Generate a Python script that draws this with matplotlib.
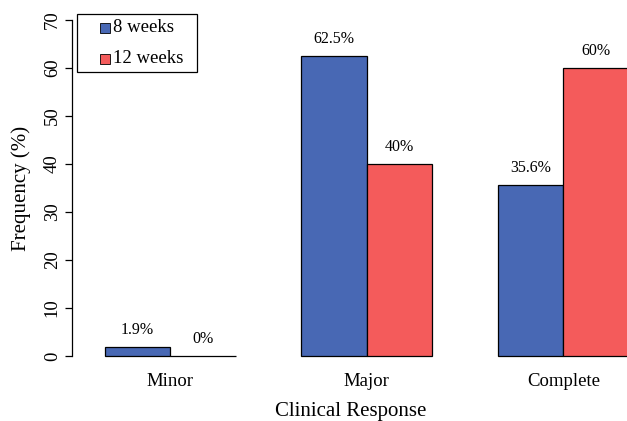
import numpy as np
import matplotlib
matplotlib.use("Agg")
import matplotlib.pyplot as plt
from matplotlib.patches import Rectangle

# Data
categories = ["Minor", "Major", "Complete"]
weeks8 = [1.9, 62.5, 35.6]
weeks12 = [0, 40, 60]
labels8 = ["1.9%", "62.5%", "35.6%"]
labels12 = ["0%", "40%", "60%"]
series_names = ["8 weeks", "12 weeks"]

blue = "#4868B4"
red = "#F45B5B"
colors = [blue, red]

plt.rcParams['font.family'] = ['Liberation Serif', 'DejaVu Serif']

fig = plt.figure(figsize=(6.27, 4.21), dpi=100)
W, H = 627, 421
ax = fig.add_axes([72 / W, (H - 356) / H, (629 - 72) / W, 336 / H])

# R-style barplot layout: bar width 1, one unit of space between groups
group_start = np.arange(len(categories)) * 3 + 1
x8 = group_start + 0.5
x12 = group_start + 1.5

ax.bar(x8, weeks8, width=1, color=blue, edgecolor="black", linewidth=0.9, clip_on=False)
ax.bar(x12, weeks12, width=1, color=red, edgecolor="black", linewidth=0.9, clip_on=False)

for x, v, t in zip(x8, weeks8, labels8):
    ax.annotate(t, (x, v), xytext=(0, 12), textcoords="offset points",
                ha="center", va="center", fontsize=11.5)
for x, v, t in zip(x12, weeks12, labels12):
    ax.annotate(t, (x, v), xytext=(0, 12), textcoords="offset points",
                ha="center", va="center", fontsize=11.5)

ax.set_xlim(0.5, 9.0)
ax.set_ylim(0, 70)
ax.set_yticks(np.arange(0, 71, 10))
ax.set_yticklabels([str(v) for v in range(0, 71, 10)], rotation=90, va="center", fontsize=13.5)
ax.set_xticks(group_start + 1)
ax.set_xticklabels(categories, fontsize=13.5)
ax.tick_params(axis="x", length=0, pad=12)
ax.tick_params(axis="y", length=5, width=0.9, pad=3)

for s in ["top", "right", "bottom"]:
    ax.spines[s].set_visible(False)
ax.spines["left"].set_linewidth(0.9)

ax.set_xlabel("Clinical Response", fontsize=15, labelpad=9)
ax.set_ylabel("Frequency (%)", fontsize=15, labelpad=9)

# legend drawn R-style (box with small squares), in figure pixel coords
def px(x, y):
    return x / W, 1 - y / H

x0, y0 = px(77, 72)
x1, y1 = px(197, 14)
fig.patches.append(Rectangle((x0, y0), x1 - x0, y1 - y0, transform=fig.transFigure,
                             facecolor="white", edgecolor="black", linewidth=0.9))
for i, (name, c) in enumerate(zip(series_names, colors)):
    yc = 28 + i * 30.5
    sx, sy = px(100, yc + 5)
    fig.patches.append(Rectangle((sx, sy), 10 / W, 10 / H, transform=fig.transFigure,
                                 facecolor=c, edgecolor="black", linewidth=0.6))
    tx, ty = px(113, yc)
    fig.text(tx, ty, name, fontsize=13.5, ha="left", va="center")

fig.savefig("out.png", dpi=100)
